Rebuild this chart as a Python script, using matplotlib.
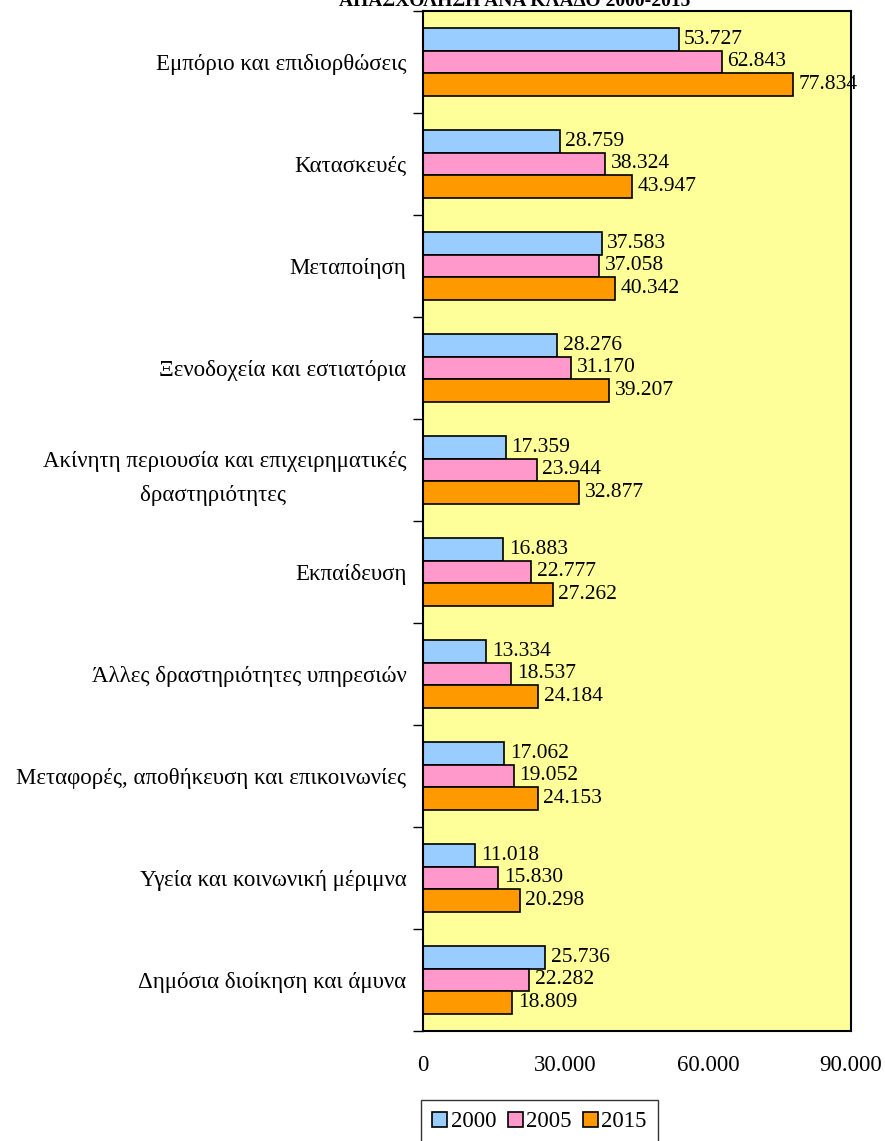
import numpy as np
import matplotlib
matplotlib.use('Agg')
import matplotlib.pyplot as plt
from matplotlib.ticker import FuncFormatter

categories = [
    "Εμπόριο και επιδιορθώσεις",
    "Κατασκευές",
    "Μεταποίηση",
    "Ξενοδοχεία και εστιατόρια",
    "Ακίνητη περιουσία και επιχειρηματικές\nδραστηριότητες    ",
    "Εκπαίδευση",
    "Άλλες δραστηριότητες υπηρεσιών",
    "Μεταφορές, αποθήκευση και επικοινωνίες",
    "Υγεία και κοινωνική μέριμνα",
    "Δημόσια διοίκηση και άμυνα",
]
years = ["2000", "2005", "2015"]
v2000 = [53727, 28759, 37583, 28276, 17359, 16883, 13334, 17062, 11018, 25736]
v2005 = [62843, 38324, 37058, 31170, 23944, 22777, 18537, 19052, 15830, 22282]
v2015 = [77834, 43947, 40342, 39207, 32877, 27262, 24184, 24153, 20298, 18809]
xticks = [0, 30000, 60000, 90000]
title = "ΑΠΑΣΧΟΛΗΣΗ ΑΝΑ ΚΛΑΔΟ 2000-2015"

colors = ['#99CCFF', '#FF99CC', '#FF9900']

plt.rcParams['font.family'] = ['Liberation Serif', 'DejaVu Serif']


def fmt(v):
    return f"{v:,}".replace(",", ".")


fig = plt.figure(figsize=(8.85, 11.41), dpi=100)
ax = fig.add_axes([423 / 885, 110 / 1141, 428 / 885, 1020 / 1141])
ax.set_facecolor('#FFFF99')

n = len(categories)
pos = np.arange(n)
h = 0.225
series = [v2000, v2005, v2015]
for i, (vals, c, lab) in enumerate(zip(series, colors, years)):
    y = pos + (i - 1) * h
    ax.barh(y, vals, height=h, color=c, edgecolor='black', linewidth=1.2, label=lab)
    for yy, v in zip(y, vals):
        ax.annotate(fmt(v), (v, yy), xytext=(4, 0), textcoords='offset points',
                    va='center', ha='left', fontsize=15.5, clip_on=False)

ax.set_xlim(0, 90000)
ax.set_ylim(n - 0.5, -0.5)
ax.set_xticks(xticks)
ax.xaxis.set_major_formatter(FuncFormatter(lambda v, p: fmt(int(v))))
ax.tick_params(axis='x', length=0, pad=17, labelsize=16.5)

ax.set_yticks(np.arange(n + 1) - 0.5)
ax.set_yticklabels([])
ax.set_yticks(pos, minor=True)
ax.set_yticklabels(categories, minor=True, fontsize=16.5, multialignment='center',
                   linespacing=1.75)
ax.tick_params(axis='y', which='major', length=7, width=1, direction='out')
ax.tick_params(axis='y', which='minor', length=0, pad=12)

for s in ax.spines.values():
    s.set_linewidth(1.5)

fig.text(0.582, 1 - 6 / 1141, title, ha='center', va='baseline',
         fontsize=14, fontweight='bold')

leg = fig.legend(loc='upper left', bbox_to_anchor=(421 / 885, 1 - 1100 / 1141),
                 ncol=3, fontsize=16.5, frameon=True, fancybox=False,
                 borderaxespad=0, handlelength=0.65, handleheight=0.65,
                 handletextpad=0.15, columnspacing=0.5, borderpad=0.5)
leg.get_frame().set_edgecolor('black')
leg.get_frame().set_linewidth(1)

fig.savefig('out.png', dpi=100)
